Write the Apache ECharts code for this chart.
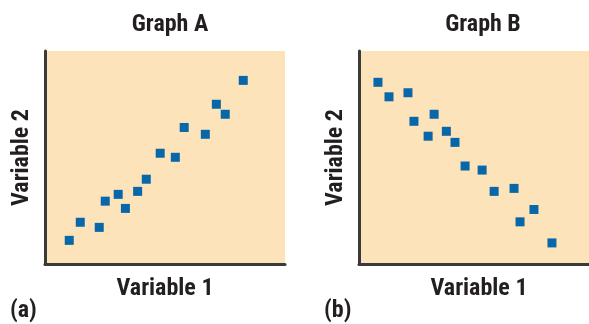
<!DOCTYPE html>
<html>
<head>
<meta charset="utf-8">
<script src="https://cdn.jsdelivr.net/npm/echarts@6/dist/echarts.min.js"></script>
<style>
html,body{margin:0;padding:0;background:#fff;}
#chart{width:589px;height:324px;}
</style>
</head>
<body>
<div id="chart"></div>
<script>
var panelTitles = ['Graph A', 'Graph B'];
var panelLabels = ['(a)', '(b)'];
var xAxisName = 'Variable 1';
var yAxisName = 'Variable 2';

var graphA = [
  [1.01, 1.11], [1.47, 1.96], [2.26, 1.72], [2.51, 2.95], [3.05, 3.27],
  [3.35, 2.61], [3.86, 3.41], [4.22, 3.98], [4.80, 5.20], [5.43, 5.01],
  [5.80, 6.41], [6.68, 6.09], [7.14, 7.50], [7.51, 7.03], [8.26, 8.62]
];
var graphB = [
  [0.79, 8.53], [1.25, 7.85], [2.04, 8.04], [2.29, 6.70], [3.13, 7.03],
  [2.88, 6.00], [3.64, 6.23], [4.00, 5.71], [4.42, 4.60], [5.13, 4.41],
  [5.63, 3.41], [6.46, 3.55], [7.29, 2.56], [6.71, 1.98], [8.04, 0.99]
];

var FONT = '"Roboto Condensed", "Liberation Sans Narrow", "Arial Narrow", sans-serif';
var TXT = '#231f20';
var fill = '#fde3ba';
var markerColor = '#0767a8';
var FS = 24;

function axisX(gi) {
  return {
    gridIndex: gi, type: 'value', min: 0, max: 10,
    name: xAxisName, nameLocation: 'middle', nameGap: 13,
    nameTextStyle: {fontFamily: FONT, fontWeight: 'bold', fontSize: FS, color: TXT, verticalAlign: 'top'},
    axisLine: {show: true, onZero: false, lineStyle: {color: '#3a3a3a', width: 3}},
    axisTick: {show: false}, axisLabel: {show: false}, splitLine: {show: false}
  };
}
function axisY(gi) {
  return {
    gridIndex: gi, type: 'value', min: 0, max: 10,
    name: yAxisName, nameLocation: 'middle', nameGap: 11, nameRotate: 90,
    nameTextStyle: {fontFamily: FONT, fontWeight: 'bold', fontSize: FS, color: TXT},
    axisLine: {show: true, onZero: false, lineStyle: {color: '#3a3a3a', width: 3}},
    axisTick: {show: false}, axisLabel: {show: false}, splitLine: {show: false}
  };
}

var chart = echarts.init(document.getElementById('chart'), null, {renderer: 'canvas'});
chart.setOption({
  animation: false,
  backgroundColor: '#ffffff',
  title: [
    {text: panelTitles[0], left: 165, top: 8, textAlign: 'center',
     textStyle: {fontFamily: FONT, fontWeight: 'bold', fontSize: FS, color: TXT}},
    {text: panelTitles[1], left: 478, top: 8, textAlign: 'center',
     textStyle: {fontFamily: FONT, fontWeight: 'bold', fontSize: FS, color: TXT}},
    {text: panelLabels[0], left: 5, top: 294,
     textStyle: {fontFamily: FONT, fontWeight: 'bold', fontSize: FS, color: TXT}},
    {text: panelLabels[1], left: 319, top: 294,
     textStyle: {fontFamily: FONT, fontWeight: 'bold', fontSize: FS, color: TXT}}
  ],
  grid: [
    {left: 45, top: 51, width: 240, height: 213, show: true, backgroundColor: fill, borderWidth: 0,
     outerBoundsMode: 'none', containLabel: false},
    {left: 359, top: 51, width: 240, height: 213, show: true, backgroundColor: fill, borderWidth: 0,
     outerBoundsMode: 'none', containLabel: false}
  ],
  xAxis: [axisX(0), axisX(1)],
  yAxis: [axisY(0), axisY(1)],
  series: [
    {type: 'scatter', xAxisIndex: 0, yAxisIndex: 0, data: graphA, symbol: 'rect', symbolSize: 9,
     itemStyle: {color: markerColor, opacity: 1}},
    {type: 'scatter', xAxisIndex: 1, yAxisIndex: 1, data: graphB, symbol: 'rect', symbolSize: 9,
     itemStyle: {color: markerColor, opacity: 1}}
  ]
});
</script>
</body>
</html>
